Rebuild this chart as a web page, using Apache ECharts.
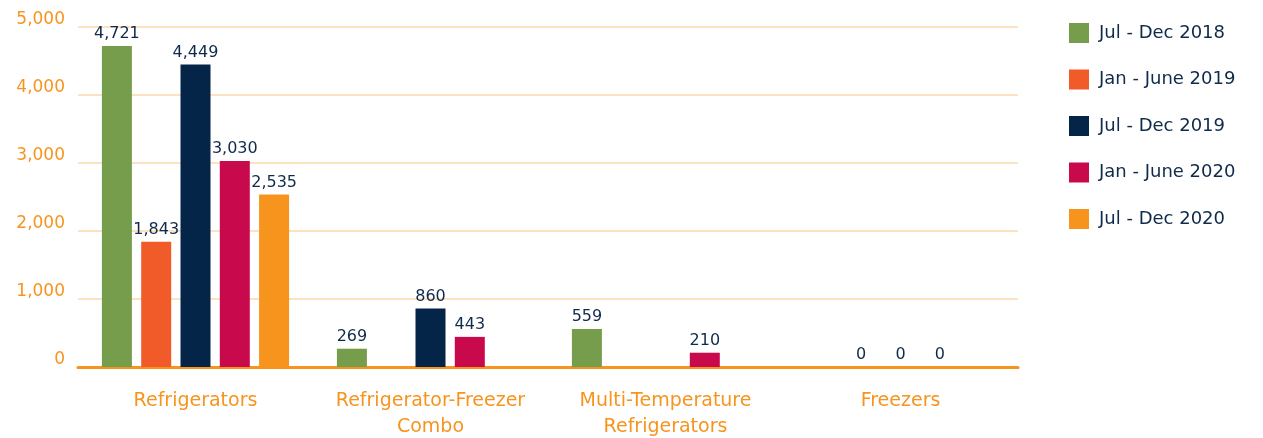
<!DOCTYPE html>
<html>
<head>
<meta charset="utf-8">
<script src="https://cdn.jsdelivr.net/npm/echarts@6/dist/echarts.min.js"></script>
<style>
html,body{margin:0;padding:0;background:#fff;}
#chart{width:1263px;height:438px;}
</style>
</head>
<body>
<div id="chart"></div>
<script>
const categories = ['Refrigerators', 'Refrigerator-Freezer\nCombo', 'Multi-Temperature\nRefrigerators', 'Freezers'];
const seriesNames = ['Jul - Dec 2018', 'Jan - June 2019', 'Jul - Dec 2019', 'Jan - June 2020', 'Jul - Dec 2020'];
const julDec2018 = [4721, 269, 559, null];
const janJun2019 = [1843, null, null, 0];
const julDec2019 = [4449, 860, null, 0];
const janJun2020 = [3030, 443, 210, 0];
const julDec2020 = [2535, null, null, null];
const yTicks = [0, 1000, 2000, 3000, 4000, 5000];

const seriesData = [julDec2018, janJun2019, julDec2019, janJun2020, julDec2020];
const colors = ['#769D4B', '#F15A29', '#052548', '#C8094C', '#F7941D'];
const FONT = '"DejaVu Sans", sans-serif';

const chart = echarts.init(document.getElementById('chart'), null, {renderer: 'canvas'});
chart.setOption({
  animation: false,
  color: colors,
  textStyle: {fontFamily: FONT},
  grid: {left: 78, right: 245, top: 27, bottom: 71, containLabel: false, outerBoundsMode: 'none'},
  legend: {
    orient: 'vertical',
    left: 1069,
    top: 23,
    padding: 0,
    itemWidth: 20,
    itemHeight: 20,
    itemGap: 26.5,
    icon: 'rect',
    data: seriesNames,
    textStyle: {color: '#0F2A4A', fontSize: 18, fontFamily: FONT, padding: [0, 0, 0, 5]}
  },
  xAxis: {
    type: 'category',
    data: categories,
    axisLine: {lineStyle: {color: '#F7941D', width: 3}},
    axisTick: {show: false},
    axisLabel: {color: '#F7941D', fontSize: 19, fontFamily: FONT, margin: 21, lineHeight: 26, interval: 0}
  },
  yAxis: {
    type: 'value',
    min: yTicks[0],
    max: yTicks[yTicks.length - 1],
    interval: 1000,
    axisLine: {show: false},
    axisTick: {show: false},
    splitLine: {lineStyle: {color: '#FCD9AE', width: 1.5}},
    axisLabel: {
      color: '#F7941D', fontSize: 17, fontFamily: FONT, margin: 13,
      verticalAlign: 'bottom',
      lineHeight: 14,
      formatter: v => v.toLocaleString('en-US')
    }
  },
  series: seriesNames.map((name, i) => ({
    name: name,
    type: 'bar',
    data: seriesData[i],
    barWidth: 30,
    barGap: '31%',
    label: {
      show: true,
      position: 'top',
      distance: 4,
      color: '#0F2A4A',
      fontSize: 16,
      fontFamily: FONT,
      formatter: p => (p.value === null || p.value === undefined) ? '' : p.value.toLocaleString('en-US')
    }
  }))
});
</script>
</body>
</html>
